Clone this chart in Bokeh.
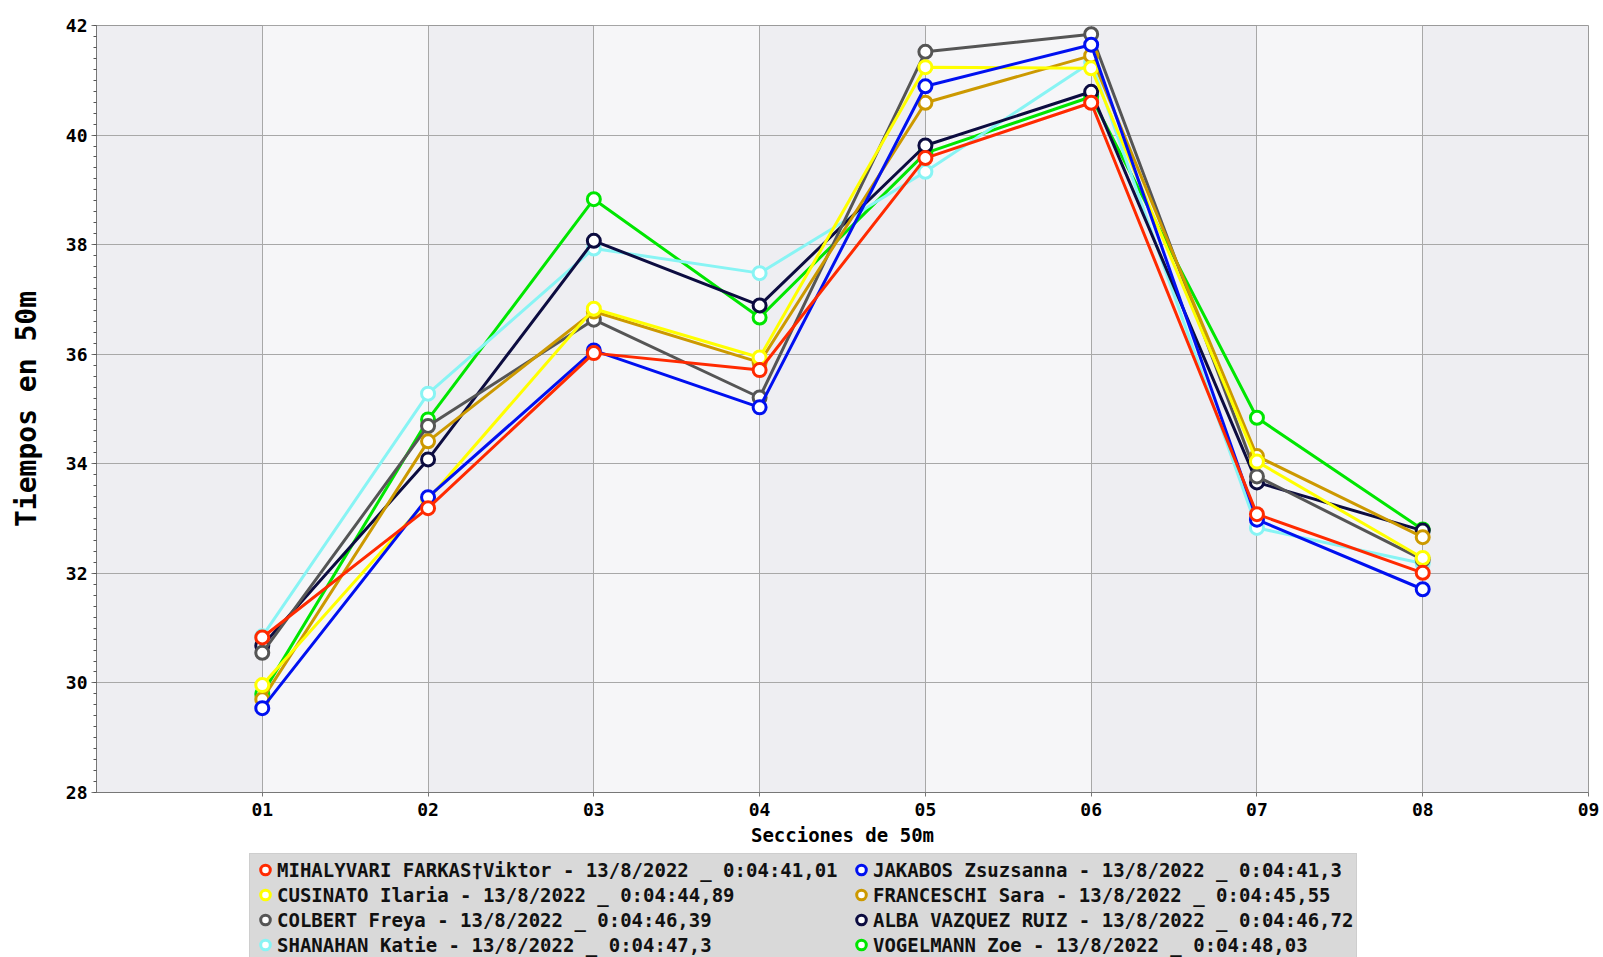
from bokeh.plotting import figure
from bokeh.layouts import column
from bokeh.models import FixedTicker, Legend, LegendItem, ColumnDataSource
from bokeh.embed import file_html
from bokeh.resources import INLINE

sections = [1, 2, 3, 4, 5, 6, 7, 8]
x_ticks = [1, 2, 3, 4, 5, 6, 7, 8, 9]
x_tick_labels = ["01", "02", "03", "04", "05", "06", "07", "08", "09"]
y_ticks = [28, 30, 32, 34, 36, 38, 40, 42]

names = [
    "MIHALYVARI FARKAS\u2020Viktor - 13/8/2022 _ 0:04:41,01",
    "JAKABOS Zsuzsanna - 13/8/2022 _ 0:04:41,3",
    "CUSINATO Ilaria - 13/8/2022 _ 0:04:44,89",
    "FRANCESCHI Sara - 13/8/2022 _ 0:04:45,55",
    "COLBERT Freya - 13/8/2022 _ 0:04:46,39",
    "ALBA VAZQUEZ RUIZ - 13/8/2022 _ 0:04:46,72",
    "SHANAHAN Katie - 13/8/2022 _ 0:04:47,3",
    "VOGELMANN Zoe - 13/8/2022 _ 0:04:48,03",
]
colors = ["#ff2a00", "#0010f0", "#ffff00", "#cc9900", "#555555", "#0c0c40", "#88f4f4", "#00e600"]

mihalyvari = [30.83, 33.19, 36.02, 35.71, 39.58, 40.59, 33.08, 32.01]
jakabos = [29.54, 33.39, 36.07, 35.03, 40.89, 41.65, 32.98, 31.71]
cusinato = [29.96, 33.35, 36.83, 35.94, 41.24, 41.22, 34.04, 32.28]
franceschi = [29.70, 34.41, 36.78, 35.85, 40.59, 41.45, 34.14, 32.66]
colbert = [30.55, 34.69, 36.63, 35.21, 41.52, 41.84, 33.77, 32.25]
alba = [30.68, 34.08, 38.07, 36.89, 39.81, 40.79, 33.66, 32.78]
shanahan = [30.85, 35.28, 37.93, 37.48, 39.33, 41.33, 32.83, 32.18]
vogelmann = [29.80, 34.81, 38.83, 36.67, 39.67, 40.70, 34.84, 32.80]

series = [mihalyvari, jakabos, cusinato, franceschi, colbert, alba, shanahan, vogelmann]

MONO = "DejaVu Sans Mono"

p = figure(
    width=1603, height=852,
    x_range=(0, 9), y_range=(28, 42),
    output_backend="svg", toolbar_location=None,
    min_border_left=96, min_border_right=15, min_border_top=25, min_border_bottom=60,
    background_fill_color="#eeeef2",
    outline_line_color="#9a9a9a", outline_line_width=1,
)

# grid
p.xgrid.ticker = FixedTicker(ticks=x_ticks)
p.xgrid.grid_line_color = "#a8a8a8"
p.xgrid.grid_line_width = 1
p.xgrid.band_fill_color = "#ffffff"
p.xgrid.band_fill_alpha = 0.45
p.ygrid.ticker = FixedTicker(ticks=y_ticks)
p.ygrid.grid_line_color = "#a8a8a8"
p.ygrid.grid_line_width = 1
p.ygrid.minor_grid_line_color = "#e0e0e4"
p.ygrid.minor_grid_line_alpha = 0.8

# axes
p.xaxis.ticker = FixedTicker(ticks=x_ticks)
p.xaxis.major_label_overrides = {t: l for t, l in zip(x_ticks, x_tick_labels)}
p.yaxis.ticker = FixedTicker(ticks=y_ticks, minor_ticks=[28 + 0.2 * i for i in range(71)])
for ax in (p.xaxis[0], p.yaxis[0]):
    ax.major_label_text_font = MONO
    ax.major_label_text_font_style = "bold"
    ax.major_label_text_font_size = "18px"
    ax.major_label_text_color = "#000000"
    ax.axis_label_text_font = MONO
    ax.axis_label_text_font_style = "bold"
    ax.axis_label_text_color = "#000000"
    ax.axis_line_color = "#777777"
    ax.major_tick_line_color = "#777777"
    ax.minor_tick_line_color = "#555555"

p.xaxis.axis_label = "Secciones de 50m"
p.xaxis.axis_label_text_font_size = "19px"
p.xaxis.major_tick_in = 0
p.xaxis.major_tick_out = 4
p.xaxis.minor_tick_out = 0
p.xaxis.minor_tick_in = 0
p.xaxis.major_label_standoff = 6
p.xaxis.axis_label_standoff = 5

p.yaxis.axis_label = "Tiempos en 50m"
p.yaxis.axis_label_text_font_size = "28px"
p.yaxis.major_tick_in = 0
p.yaxis.major_tick_out = 5
p.yaxis.minor_tick_in = 0
p.yaxis.minor_tick_out = 3
p.yaxis.major_label_standoff = 4
p.yaxis.axis_label_standoff = 20

# lines and markers (drawn in reverse so first entries are on top)
for i in reversed(range(len(series))):
    src = ColumnDataSource(dict(x=sections, y=series[i]))
    p.line("x", "y", source=src, line_color=colors[i], line_width=3)
    p.scatter("x", "y", source=src, marker="circle", size=13,
              line_color=colors[i], line_width=3, fill_color="white")

# legend strip below the chart (its range is kept away from the data so only the legend shows)
leg = figure(
    width=1603, height=105, x_range=(100, 101), y_range=(100, 101),
    output_backend="svg", toolbar_location=None,
    x_axis_location=None, y_axis_location=None,
    min_border=0, outline_line_color=None, background_fill_color="white",
)
leg.grid.visible = False
items = []
for i in range(len(series)):
    src = ColumnDataSource(dict(x=sections, y=series[i]))
    r = leg.scatter("x", "y", source=src, marker="circle", size=13,
                    line_color=colors[i], line_width=3, fill_color="white")
    label = names[i] + (" " if i == 0 else "")
    items.append(LegendItem(label=label, renderers=[r]))

legend = Legend(
    items=items,
    orientation="horizontal", ncols=2,
    location=(153, -4),
    label_text_font=MONO, label_text_font_style="bold", label_text_font_size="19px",
    label_text_color="#111111",
    glyph_width=24, glyph_height=25, label_height=25, label_standoff=0,
    spacing=0, padding=3, margin=0,
    background_fill_color="#d9d9d9", background_fill_alpha=1.0,
    border_line_color="#c4c4c4", border_line_width=1,
)
leg.add_layout(legend, "center")

layout = column(p, leg, spacing=0)
open("out.html", "w").write(file_html(layout, INLINE))
